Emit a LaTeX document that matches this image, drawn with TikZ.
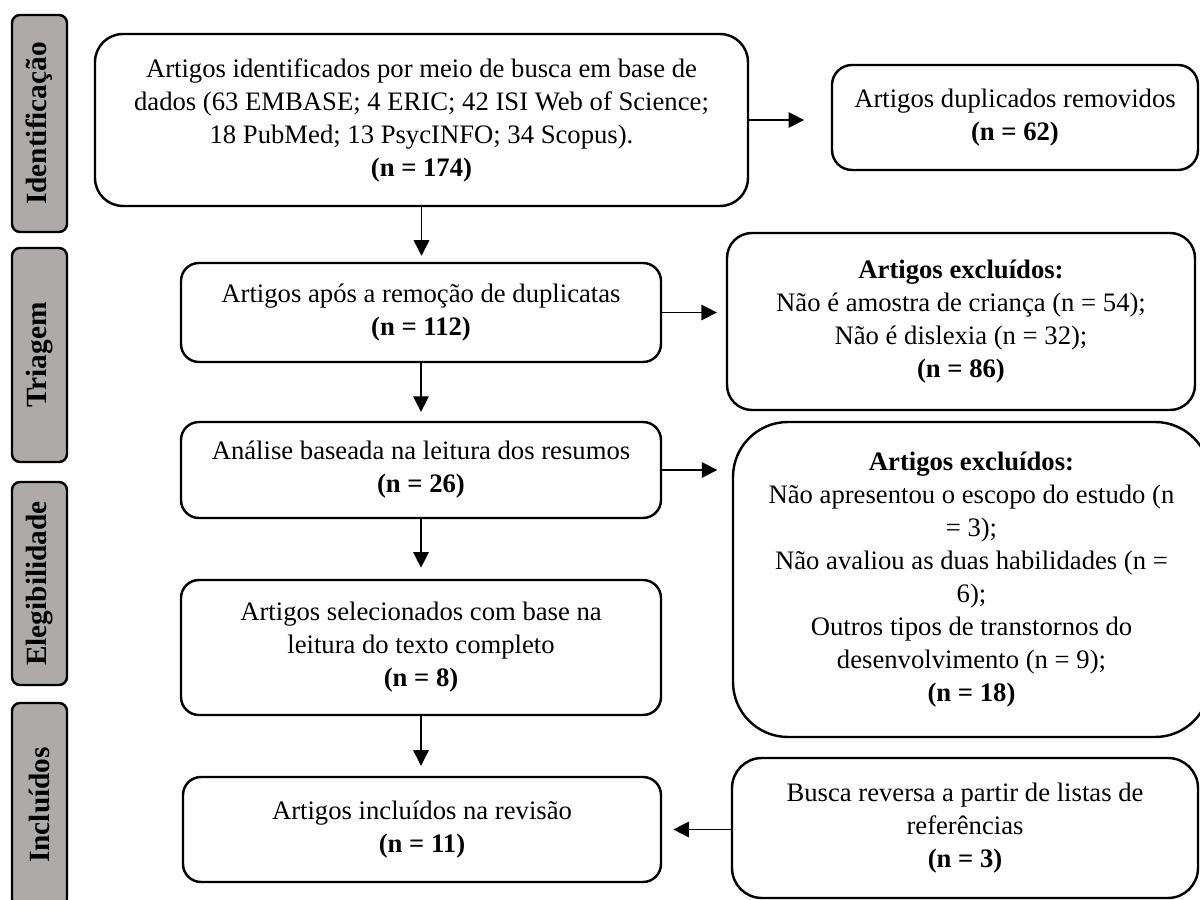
\documentclass[tikz,border=0pt]{standalone}
\usepackage{fontspec}
\setmainfont{Liberation Serif}
\usetikzlibrary{arrows.meta}
\definecolor{sidegray}{HTML}{AEAAAA}
\begin{document}
\begin{tikzpicture}[x=0.45pt,y=-0.45pt,
  every node/.style={font=\fontsize{12}{14.85}\selectfont, align=center, inner sep=0pt},
  flowbox/.style={draw, line width=1.1pt, rounded corners=#1},
  flowbox/.default=8.1pt,
  sidebox/.style={draw, line width=1.1pt, rounded corners=3.6pt, fill=sidegray, rotate=90,
    minimum height=24.75pt, font=\fontsize{13.2}{15}\selectfont\bfseries},
  arr/.style={-{Triangle[length=7pt,width=7pt]}, line width=0.6pt}]
\useasboundingbox (0,0) rectangle (1200,900);

% side phase labels
\node[sidebox, minimum width=97.65pt] (sid) at (39.5,123.5) {Identificação};
\node[sidebox, minimum width=96.3pt] (stri) at (39.5,355) {Triagem};
\node[sidebox, minimum width=91.35pt] (sele) at (39.5,583.5) {Elegibilidade};
\node[sidebox, minimum width=91.8pt] (sinc) at (39.5,805) {Incluídos};

% main column
\node[flowbox=12.6pt, minimum width=293.85pt, minimum height=77.4pt] (b1) at (421.5,120)
  {Artigos identificados por meio de busca em base de\\dados (63 EMBASE; 4 ERIC; 42 ISI Web of Science;\\18 PubMed; 13 PsycINFO; 34 Scopus).\\\textbf{(n = 174)}};
\node[flowbox, minimum width=216pt, minimum height=44.55pt] (b2) at (421,312.5)
  {Artigos após a remoção de duplicatas\\\textbf{(n = 112)}};
\node[flowbox, minimum width=216pt, minimum height=43.2pt] (b3) at (421,470)
  {Análise baseada na leitura dos resumos\\\textbf{(n = 26)}};
\node[flowbox, minimum width=216pt, minimum height=60.75pt] (b4) at (421,647.5)
  {Artigos selecionados com base na\\leitura do texto completo\\\textbf{(n = 8)}};
\node[flowbox, minimum width=215.1pt, minimum height=47.25pt] (b5) at (422,829.5)
  {Artigos incluídos na revisão\\\textbf{(n = 11)}};

% right column
\node[flowbox=9pt, minimum width=164.7pt, minimum height=47.25pt] (dup) at (1015,117.5)
  {Artigos duplicados removidos\\\textbf{(n = 62)}};
\node[flowbox=11.25pt, minimum width=210.6pt, minimum height=79.65pt] (ex1) at (961,321.5)
  {\textbf{Artigos excluídos:}\\Não é amostra de criança (n = 54);\\Não é dislexia (n = 32);\\\textbf{(n = 86)}};
\node[flowbox=24.75pt, minimum width=214.65pt, minimum height=141.75pt] (ex2) at (971.5,579.5)
  {\textbf{Artigos excluídos:}\\Não apresentou o escopo do estudo (n\\= 3);\\Não avaliou as duas habilidades (n =\\6);\\Outros tipos de transtornos do\\desenvolvimento (n = 9);\\\textbf{(n = 18)}};
\node[flowbox=13.5pt, minimum width=209.7pt, minimum height=63pt] (busca) at (965,828)
  {Busca reversa a partir de listas de\\referências\\\textbf{(n = 3)}};

% connectors
\draw[arr, shorten >=2.7pt] (b1.south) -- (b1.south |- b2.north);
\draw[arr, shorten >=4pt] (b2.south) -- (b2.south |- b3.north);
\draw[arr, shorten >=5pt] (b3.south) -- (b3.south |- b4.north);
\draw[arr, shorten >=4.5pt] (b4.south) -- (b4.south |- b5.north);
\draw[arr, shorten >=12pt] (b1.east) -- (b1.east -| dup.west);
\draw[arr, shorten >=4pt] (b2.east) -- (b2.east -| ex1.west);
\draw[arr, shorten >=6.5pt] (b3.east) -- (b3.east -| ex2.west);
\draw[arr, shorten >=5pt] (busca.west |- b5.east) -- (b5.east);
\end{tikzpicture}
\end{document}
